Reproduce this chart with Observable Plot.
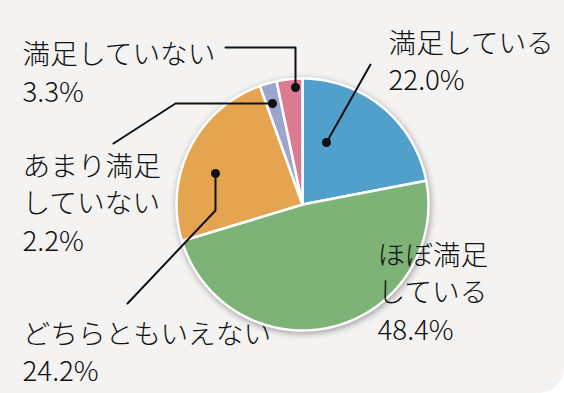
<!DOCTYPE html>
<html><head><meta charset="utf-8">
<script src="https://cdn.jsdelivr.net/npm/d3@7"></script>
<script src="https://cdn.jsdelivr.net/npm/@observablehq/plot@0.6"></script>
<style>
html,body{margin:0;padding:0;background:#fff;}
#chart{width:564px;height:393px;background:#f4f3f1;border-bottom-right-radius:26px;overflow:hidden;}
svg{display:block;}
</style></head><body><div id="chart"></div>
<script>
// ---- data ----
const categories = ["満足している","ほぼ満足している","どちらともいえない","あまり満足していない","満足していない"];
const percents = [22.0, 48.4, 24.2, 2.2, 3.3];
const labelLines = ["満足している","ほぼ満足\nしている","どちらともいえない","あまり満足\nしていない","満足していない"];
const colors = ["#519fcb","#7db377","#e5a450","#9ea5cc","#db7a91"];

// ---- layout (pixels) ----
const W = 564, H = 393, CX = 302, CY = 204, R = 126;
const labelPos = [[388,59],[377,290],[22,350],[22,201],[22,70.5]];
const leaders = [
  [[326,142],[370,64]],
  null,
  [[215,173],[215,210],[127,303]],
  [[272,103],[175,103],[113,143]],
  [[295,87],[295,47],[225,47]]
];
const toU = ([px,py]) => ({x:(px-CX)/R, y:(CY-py)/R});

// ---- wedge outlines from values ----
const total = d3.sum(percents);
const wedges = [];
let acc = 0;
categories.forEach((c,i) => {
  const a0 = acc/total*2*Math.PI; acc += percents[i]; const a1 = acc/total*2*Math.PI;
  const n = Math.max(2, Math.ceil((a1-a0)/(Math.PI/360)));
  wedges.push({cat:c, x:0, y:0});
  for (let k=0;k<=n;k++){ const a=a0+(a1-a0)*k/n; wedges.push({cat:c, x:Math.sin(a), y:Math.cos(a)}); }
  wedges.push({cat:c, x:0, y:0});
});

const labels = categories.map((c,i) => {
  const u = toU(labelPos[i]);
  return {x:u.x, y:u.y, text:`${labelLines[i]}\n${percents[i].toFixed(1)}%`};
});
const leaderPts = [], dotPts = [];
leaders.forEach((L,i) => {
  if (!L) return;
  L.forEach(p => leaderPts.push({id:i, ...toU(p)}));
  dotPts.push({id:i, ...toU(L[0])});
});

const plot = Plot.plot({
  width: W, height: H,
  marginLeft: CX-R, marginRight: W-(CX+R), marginTop: CY-R, marginBottom: H-(CY+R),
  x: {domain:[-1,1], axis:null},
  y: {domain:[-1,1], axis:null},
  color: {domain: categories, range: colors},
  style: {background:"transparent", fontFamily:"'Noto Sans CJK JP', sans-serif", overflow:"visible"},
  marks: [
    Plot.line(wedges, {x:"x", y:"y", z:"cat", fill:"cat", stroke:"white", strokeWidth:2.5, strokeLinejoin:"round", curve:"linear"}),
    Plot.line(leaderPts, {x:"x", y:"y", z:"id", stroke:"#111", strokeWidth:2}),
    Plot.dot(dotPts, {x:"x", y:"y", r:4.5, fill:"#111"}),
    Plot.text(labels, {x:"x", y:"y", text:"text", textAnchor:"start", lineAnchor:"middle", lineHeight:1.35, fontSize:27.7, fontWeight:300, fill:"#111", fontFamily:"'Noto Sans CJK JP', sans-serif"})
  ]
});
document.getElementById("chart").appendChild(plot);
d3.select(plot).select("g[aria-label=line]").style("filter","drop-shadow(1px 2px 3px rgba(0,0,0,0.35))");
</script></body></html>
